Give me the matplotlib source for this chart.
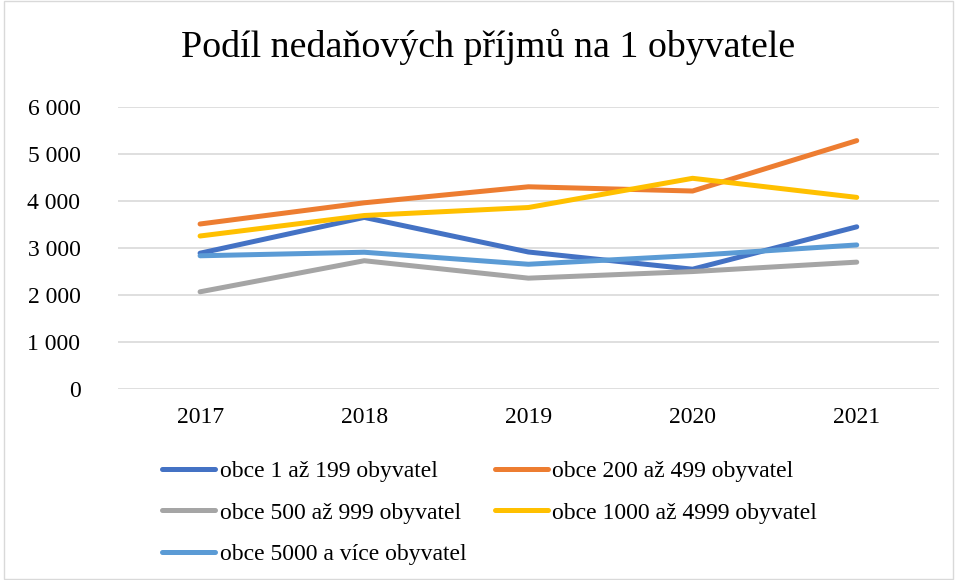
import matplotlib.pyplot as plt
from matplotlib.patches import Rectangle

plt.rcParams["font.family"] = ["Liberation Serif", "DejaVu Serif"]

years = ["2017", "2018", "2019", "2020", "2021"]
obce_1_199 = [2890, 3650, 2915, 2550, 3450]
obce_200_499 = [3510, 3960, 4300, 4210, 5280]
obce_500_999 = [2070, 2730, 2360, 2500, 2700]
obce_1000_4999 = [3255, 3690, 3860, 4480, 4075]
obce_5000_plus = [2835, 2910, 2655, 2840, 3065]

labels = [
    "obce 1 až 199 obyvatel",
    "obce 200 až 499 obyvatel",
    "obce 500 až 999 obyvatel",
    "obce 1000 až 4999 obyvatel",
    "obce 5000 a více obyvatel",
]
colors = ["#4472C4", "#ED7D31", "#A5A5A5", "#FFC000", "#5B9BD5"]
yticks = [0, 1000, 2000, 3000, 4000, 5000, 6000]


def fmt_thousands(v):
    return f"{v:,}".replace(",", " ")


fig = plt.figure(figsize=(9.57, 5.8), dpi=100)
ax = fig.add_axes([0.1233, 0.3288, 0.8577, 0.4872])

series = [obce_1_199, obce_200_499, obce_500_999, obce_1000_4999, obce_5000_plus]
x = range(len(years))
handles = []
for vals, lab, col in zip(series, labels, colors):
    (h,) = ax.plot(x, vals, color=col, linewidth=3.6, label=lab,
                   solid_capstyle="round", solid_joinstyle="round")
    handles.append(h)

ax.set_xlim(-0.5, len(years) - 0.5)
ax.set_ylim(0, 6000)
ax.set_xticks(list(x))
ax.set_xticklabels(years)
ax.set_yticks(yticks)
ax.set_yticklabels([fmt_thousands(v) for v in yticks])
ax.tick_params(axis="both", length=0, labelsize=17, colors="black")
ax.tick_params(axis="x", pad=13)
ax.tick_params(axis="y", pad=27)
ax.grid(axis="y", color="#D9D9D9", linewidth=1.2)
ax.set_axisbelow(True)
for s in ax.spines.values():
    s.set_visible(False)

fig.text(0.5105, 1 - 57 / 580, "Podíl nedaňových příjmů na 1 obyvatele",
         ha="center", va="baseline", fontsize=27.3)

order = [0, 2, 4, 1, 3]
fig.legend([handles[i] for i in order], [labels[i] for i in order],
           ncol=2, loc="upper left", bbox_to_anchor=(0.169, 0.206),
           frameon=False, fontsize=17, handlelength=2.25,
           handletextpad=0.2, columnspacing=1.2, labelspacing=0.85,
           borderpad=0, borderaxespad=0)

fig.patches.append(Rectangle((0.004, 0.002), 0.992, 0.996, transform=fig.transFigure,
                             fill=False, edgecolor="#D9D9D9", linewidth=1))

fig.savefig("out.png", dpi=100)
